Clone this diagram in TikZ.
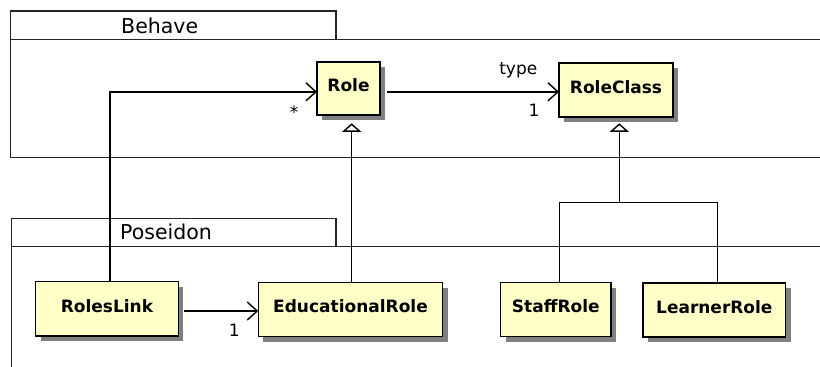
\documentclass[tikz,border=0pt]{standalone}
\usepackage{fontspec}
\setmainfont{DejaVu Sans}
\usetikzlibrary{arrows.meta,shadows,calc}
\definecolor{clsfill}{RGB}{255,255,200}
\definecolor{shadowgrey}{RGB}{128,128,128}
\tikzset{
  frame/.style={line width=1.4pt, draw=black!85},
  cls/.style={draw=black, line width=1.4pt, fill=clsfill, outer sep=0pt, inner sep=0pt,
    minimum height=54pt, text height=12.4pt, text depth=6pt,
    font=\fontsize{17}{19}\selectfont\bfseries,
    drop shadow={shadow xshift=5pt, shadow yshift=-5pt, fill=shadowgrey, opacity=1}},
  pkgname/.style={inner sep=0pt, anchor=base west, font=\fontsize{20.5}{24}\selectfont},
  lbl/.style={inner sep=0pt, anchor=base, font=\fontsize{17}{20}\selectfont},
  conn/.style={line width=1.4pt, draw=black},
  assoc/.style={conn, -{Straight Barb[length=10pt, width=18pt, line width=1.4pt]}},
  gen/.style={conn, -{Triangle[open, length=8.5pt, width=19pt, line width=1.4pt]}}
}
\begin{document}
\begin{tikzpicture}[x=1pt, y=-1pt]
\useasboundingbox (0,0) rectangle (820,367);
% Behave package
\draw[frame] (10.7,11) rectangle (336,39.3);
\draw[frame] (820,39.3) -- (10.7,39.3) -- (10.7,157.3) -- (820,157.3);
\node[pkgname] (behave) at (121,33.3) {Behave};
% Poseidon package
\draw[frame] (11.7,218.3) rectangle (336,246.7);
\draw[frame] (820,246.7) -- (11.7,246.7) -- (11.7,367);
\node[pkgname] (poseidon) at (120,239.5) {Poseidon};
% classes
\node[cls, minimum width=63pt, minimum height=53pt] (role) at (348.5,88.5) {Role};
\node[cls, minimum width=114pt] (rc) at (616,90) {RoleClass};
\node[cls, minimum width=142.6pt, minimum height=54.3pt] (rl) at (107,308.8) {RolesLink};
\node[cls, minimum width=184.4pt] (er) at (350.5,309.7) {EducationalRole};
\node[cls, minimum width=110.3pt] (sr) at (555.85,309.7) {StaffRole};
\node[cls, minimum width=142.7pt] (lr) at (714.35,310) {LearnerRole};
% associations
\draw[assoc, shorten <=7pt] ([yshift=-3.3pt]role.east) -- ([yshift=-3.3pt]role.east -| rc.west);
\draw[assoc] ([xshift=3pt]rl.north) |- ([yshift=-3.3pt]role.west);
\draw[assoc, shorten <=6pt] ([yshift=-2.2pt]rl.east) -- ([yshift=-2.2pt]rl.east -| er.west);
% generalizations
\draw[gen, shorten >=8.3pt] ([xshift=1.2pt]er.north) -- ([xshift=1.2pt]er.north |- role.south);
\coordinate (j) at (619.3,202.3);
\draw[conn] ([xshift=3.45pt]sr.north) |- (j);
\draw[conn] ([xshift=2.95pt]lr.north) |- (j);
\draw[gen, shorten >=6.3pt] (j) -- (j |- rc.south);
% labels
\node[lbl] (star) at (294,118.5) {*};
\node[lbl] (type) at (518.3,74) {type};
\node[lbl] (one1) at (534,116.7) {1};
\node[lbl] (one2) at (234.3,336.7) {1};
\end{tikzpicture}
\end{document}
